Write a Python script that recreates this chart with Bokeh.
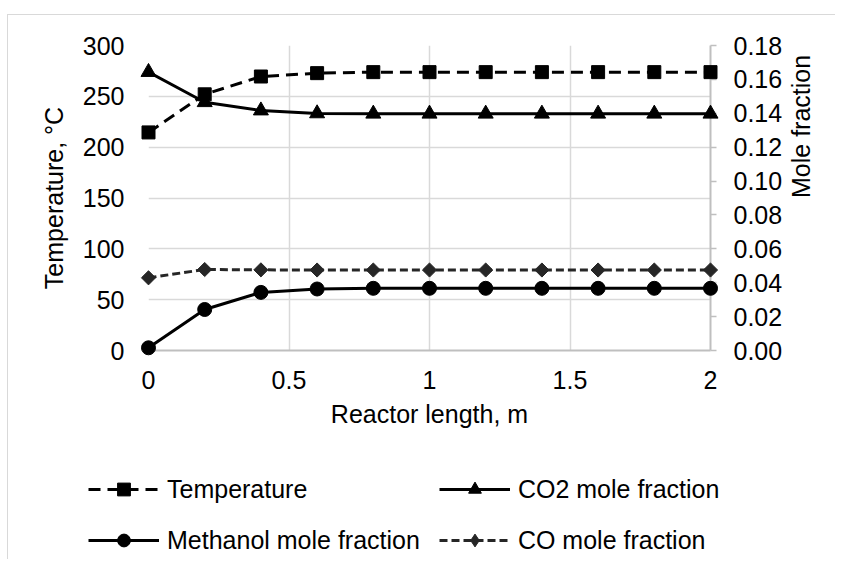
import math
from bokeh.plotting import figure
from bokeh.models import (Range1d, LinearAxis, FixedTicker, NumeralTickFormatter,
                          Legend, LegendItem)
from bokeh.embed import file_html
from bokeh.resources import INLINE

# ---------------- data ----------------
length_m = [0.0, 0.2, 0.4, 0.6, 0.8, 1.0, 1.2, 1.4, 1.6, 1.8, 2.0]
temperature_c = [214.5, 252.0, 269.5, 272.8, 273.8, 273.8, 273.8, 273.8, 273.8, 273.8, 273.8]
co2_frac = [0.1643, 0.1465, 0.1416, 0.1399, 0.1397, 0.1397, 0.1397, 0.1397, 0.1397, 0.1397, 0.1397]
methanol_frac = [0.0016, 0.0242, 0.0343, 0.0363, 0.0367, 0.0367, 0.0367, 0.0367, 0.0367, 0.0367, 0.0367]
co_frac = [0.0429, 0.0478, 0.0476, 0.0475, 0.0475, 0.0475, 0.0475, 0.0475, 0.0475, 0.0475, 0.0475]

series_names = ["Temperature", "CO2 mole fraction", "Methanol mole fraction", "CO mole fraction"]

x_ticks = [0, 0.5, 1, 1.5, 2]
temp_ticks = [0, 50, 100, 150, 200, 250, 300]
frac_ticks = [0.0, 0.02, 0.04, 0.06, 0.08, 0.10, 0.12, 0.14, 0.16, 0.18]

FONT = "Liberation Sans"
FS = "25px"
TXT = "#000000"
GRID = "#d9d9d9"
AXIS = "#bfbfbf"
BORDER = "1px solid #d9d9d9"

p = figure(width=828, height=445, output_backend="svg", toolbar_location=None,
           x_range=Range1d(0, 2), y_range=Range1d(0, 300),
           min_border_left=140, min_border_right=126, min_border_top=30,
           min_border_bottom=110, background_fill_color="white",
           border_fill_color="white", outline_line_color=None)
p.margin = (14, 0, 0, 7)
p.styles = {"border-left": BORDER, "border-top": BORDER}
p.extra_y_ranges = {"frac": Range1d(0, 0.18)}

# grid
p.xgrid.ticker = FixedTicker(ticks=x_ticks)
p.ygrid.ticker = FixedTicker(ticks=temp_ticks)
p.xgrid.grid_line_color = GRID
p.ygrid.grid_line_color = GRID
p.xgrid.grid_line_width = 1.5
p.ygrid.grid_line_width = 1.5

# bottom axis
xa = p.xaxis[0]
xa.ticker = FixedTicker(ticks=x_ticks)
xa.formatter = NumeralTickFormatter(format="0.[0]")
xa.axis_line_color = AXIS
xa.axis_line_width = 2
xa.major_tick_line_color = None
xa.minor_tick_line_color = None
xa.major_tick_out = 0
xa.major_label_standoff = 20
xa.axis_label = "Reactor length, m"
xa.axis_label_standoff = 8

# left axis
ya = p.yaxis[0]
ya.ticker = FixedTicker(ticks=temp_ticks)
ya.axis_line_color = None
ya.major_tick_line_color = None
ya.minor_tick_line_color = None
ya.major_tick_out = 0
ya.major_label_standoff = 24
ya.axis_label = "Temperature, °C"
ya.axis_label_standoff = 12

# right axis
ra = LinearAxis(y_range_name="frac", ticker=FixedTicker(ticks=frac_ticks),
                formatter=NumeralTickFormatter(format="0.00"))
ra.axis_line_color = AXIS
ra.axis_line_width = 2
ra.major_tick_line_color = AXIS
ra.major_tick_line_width = 1.5
ra.major_tick_out = 6
ra.major_tick_in = 0
ra.minor_tick_line_color = None
ra.major_label_standoff = 17
ra.axis_label = "Mole fraction"
ra.axis_label_standoff = 16
ra.axis_label_orientation = math.pi / 2
p.add_layout(ra, "right")

for ax in (xa, ya, ra):
    ax.major_label_text_font = FONT
    ax.major_label_text_font_size = FS
    ax.major_label_text_color = TXT
    ax.axis_label_text_font = FONT
    ax.axis_label_text_font_size = FS
    ax.axis_label_text_font_style = "normal"
    ax.axis_label_text_color = TXT

LINE_STYLES = [
    dict(line_color="black", line_width=3, line_dash="12 7"),
    dict(line_color="black", line_width=3),
    dict(line_color="black", line_width=3),
    dict(line_color="#262626", line_width=3, line_dash="8 4"),
]
MARKERS = [
    dict(marker="square", size=13, fill_color="black", line_color="black"),
    dict(marker="triangle", size=15, fill_color="black", line_color="black"),
    dict(marker="circle", size=14, fill_color="black", line_color="black"),
    dict(marker="square", size=10, angle=math.pi / 4, fill_color="#262626",
         line_color="#262626"),
]
LEGEND_MARKERS = MARKERS[:3] + [
    dict(marker="diamond", size=15, fill_color="#262626", line_color="#262626"),
]
Y_DATA = [temperature_c, co2_frac, methanol_frac, co_frac]
RANGE_NAMES = ["default", "frac", "frac", "frac"]

# series on the chart
for ys, rn, ls, mk in zip(Y_DATA, RANGE_NAMES, LINE_STYLES, MARKERS):
    p.line(length_m, ys, y_range_name=rn, **ls)
    p.scatter(length_m, ys, y_range_name=rn, level="overlay", **mk)

# legend canvas below the chart (own canvas, so the plot frame does not clip it)
lf = figure(width=828, height=100, output_backend="svg", toolbar_location=None,
            x_range=Range1d(0, 1), y_range=Range1d(0, 1),
            x_axis_type=None, y_axis_type=None, min_border=0,
            outline_line_color=None, background_fill_color="white",
            border_fill_color="white")
lf.margin = (0, 0, 0, 7)
lf.styles = {"border-left": BORDER}
lf.xgrid.visible = False
lf.ygrid.visible = False

items = []
for name, ys, ls, mk in zip(series_names, Y_DATA, LINE_STYLES, LEGEND_MARKERS):
    r1 = lf.line(length_m, ys, visible=False, **ls)
    r2 = lf.scatter(length_m, ys, visible=False, **mk)
    items.append(LegendItem(label=name, renderers=[r1, r2]))

legend = Legend(items=items, orientation="horizontal", ncols=2, location=(80, 3))
legend.glyph_width = 71
legend.glyph_height = 32
legend.label_standoff = 8
legend.spacing = 19
legend.padding = 0
legend.margin = 0
legend.border_line_color = None
legend.background_fill_alpha = 0
legend.label_text_font = FONT
legend.label_text_font_size = FS
legend.label_text_color = TXT
lf.add_layout(legend, "center")

open("out.html", "w").write(file_html([p, lf], INLINE))
